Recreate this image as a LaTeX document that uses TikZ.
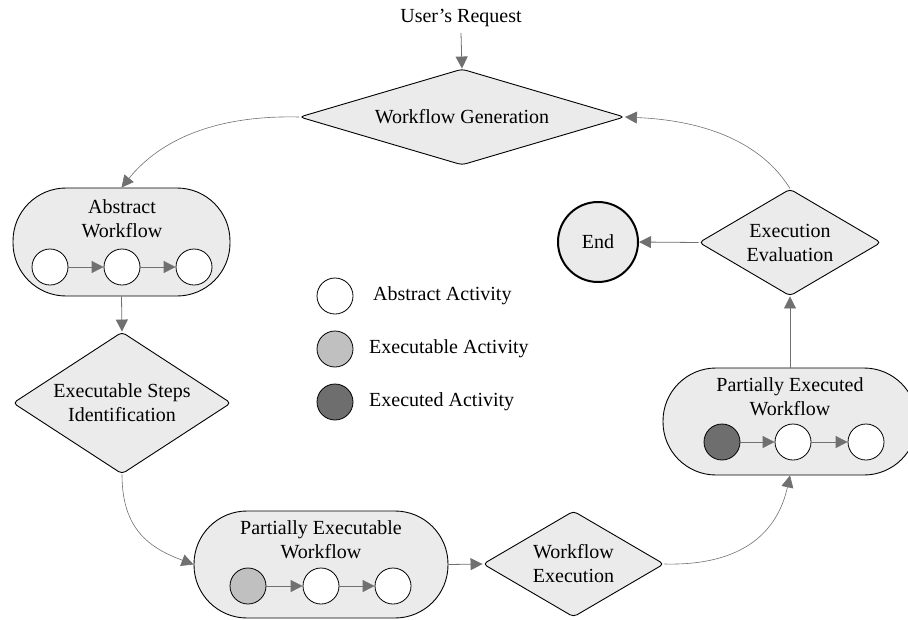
\documentclass[tikz,border=0pt]{standalone}
\usepackage{fontspec}
\setmainfont{Liberation Serif}
\usetikzlibrary{shapes.geometric,arrows.meta}
\definecolor{boxfill}{HTML}{EBEBEB}
\definecolor{linkgray}{HTML}{707070}
\definecolor{execgray}{HTML}{C0C0C0}
\definecolor{donegray}{HTML}{6E6E6E}
\begin{document}
\begin{tikzpicture}[x=1pt,y=-1pt,
  every node/.style={font=\fontsize{20}{24}\selectfont},
  decision/.style={diamond,draw=black,fill=boxfill,line width=0.9pt,inner sep=0pt,
    rounded corners=4pt},
  flowbox/.style={rectangle,draw=black,fill=boxfill,line width=0.9pt,
    minimum height=107pt,rounded corners=53pt},
  activity/.style={circle,draw=black,line width=0.8pt,minimum size=36pt,inner sep=0pt},
  abstractact/.style={activity,fill=white},
  execact/.style={activity,fill=execgray},
  doneact/.style={activity,fill=donegray},
  link/.style={draw=linkgray,line width=0.8pt,-{Triangle[length=12pt,width=12pt]}},
  thinlink/.style={draw=linkgray,line width=0.6pt,-{Triangle[length=12pt,width=12pt]}},
  label/.style={inner sep=0pt,align=center}]
\useasboundingbox (0,0) rectangle (908,619);

% request and generation
\node[label] (req) at (461,18) {User’s Request};
\node[decision,minimum width=325pt,minimum height=96pt] (gen) at (462,117) {};
\node[label] (gent) at (462,117) {Workflow Generation};

% abstract workflow
\node[flowbox,minimum width=217pt,minimum height=108pt] (aw) at (121.5,242) {};
\node[label] (awt) at (122,219) {Abstract\\Workflow};
\node[abstractact] (a1) at (50,267) {};
\node[abstractact] (a2) at (122,267) {};
\node[abstractact] (a3) at (194,267) {};

% executable steps identification
\node[decision,minimum width=218pt,minimum height=142pt] (esi) at (122,403) {};
\node[label] (esit) at (122,403) {Executable Steps\\Identification};

% partially executable workflow
\node[flowbox,minimum width=254pt] (pew) at (321,564.5) {};
\node[label] (pewt) at (321,540) {Partially Executable\\Workflow};
\node[execact] (p1) at (248,586) {};
\node[abstractact] (p2) at (321,586) {};
\node[abstractact] (p3) at (393,586) {};

% workflow execution
\node[decision,minimum width=181pt,minimum height=106pt] (we) at (573.5,564) {};
\node[label] (wet) at (573.5,564) {Workflow\\Execution};

% partially executed workflow
\node[flowbox,minimum width=254pt] (pxw) at (790,421.5) {};
\node[label] (pxwt) at (790,397) {Partially Executed\\Workflow};
\node[doneact] (x1) at (722,442) {};
\node[abstractact] (x2) at (793,442) {};
\node[abstractact] (x3) at (866,442) {};

% execution evaluation and end
\node[decision,minimum width=182pt,minimum height=107pt] (ee) at (790,242.5) {};
\node[label] (eet) at (790,242.5) {Execution\\Evaluation};
\node[circle,draw=black,line width=2pt,fill=boxfill,minimum size=80pt,inner sep=0pt] (end) at (598,242) {End};

% legend
\node[abstractact] (l1) at (335,296) {};
\node[anchor=west,inner sep=0pt] (l1t) at (373,296) {Abstract Activity};
\node[execact] (l2) at (335,349) {};
\node[anchor=west,inner sep=0pt] (l2t) at (369,349) {Executable Activity};
\node[doneact] (l3) at (335,402) {};
\node[anchor=west,inner sep=0pt] (l3t) at (369,402) {Executed Activity};

% connectors inside the workflows
\draw[link] (a1) -- (a2);
\draw[link] (a2) -- (a3);
\draw[link] (p1) -- (p2);
\draw[link] (p2) -- (p3);
\draw[link] (x1) -- (x2);
\draw[link] (x2) -- (x3);

% main cycle
\draw[link] (req.south) ++(0,6) -- (gen.north);
\draw[thinlink] (gen.west) .. controls (215,115) and (160,140) .. (aw.north);
\draw[link] (aw.south) -- (esi.north);
\draw[thinlink] (esi.south) .. controls (122,530) and (150,548) .. (pew.west);
\draw[link] (pew.east) -- (we.west);
\draw[thinlink] (we.east) .. controls (745,566) and (778,530) .. (pxw.south);
\draw[link] (pxw.north) -- (ee.south);
\draw[link] (ee.west) -- (end.east);
\draw[thinlink] (ee.north) .. controls (765,148) and (715,121) .. (gen.east);
\end{tikzpicture}
\end{document}
